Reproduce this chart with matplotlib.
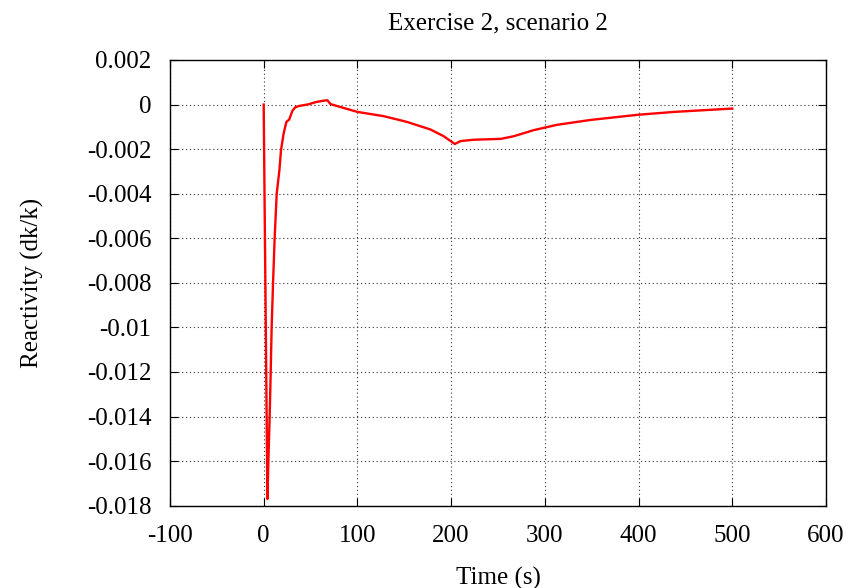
#!/usr/bin/env python3
"""Reactivity transient, exercise 2 scenario 2 (gnuplot-style line plot)."""
import matplotlib
matplotlib.use('Agg')
import matplotlib.pyplot as plt

# time (s) and reactivity (dk/k)
time_s = [0, 4, 5.0, 6.4, 7.5, 8.5, 10.0, 11.7, 13.9, 16.8, 18.5, 21.3, 24.2,
          26.0, 27.4, 28.9, 30.7, 33.5, 37.0, 47.7, 56.6, 65.0, 68.0, 71.3,
          81.0, 100, 128, 153, 178, 192, 204, 210, 224, 253, 267, 288, 313,
          349, 399, 438, 500]
reactivity = [0.0, -0.0177, -0.0160, -0.0140, -0.0120, -0.0100, -0.0080,
              -0.0060, -0.0040, -0.00294, -0.00204, -0.0013, -0.00078,
              -0.00072, -0.00066, -0.00048, -0.00028, -0.00013, -0.00007,
              0.00001, 0.00012, 0.00018, 0.00019, 0.00002,
              -0.0001, -0.00033, -0.00052, -0.00078, -0.00112, -0.00142,
              -0.00177, -0.00164, -0.00158, -0.00154, -0.00142, -0.00115,
              -0.00091, -0.00069, -0.00046, -0.00033, -0.00018]

xticks = [-100, 0, 100, 200, 300, 400, 500, 600]
yticks = [0.002, 0, -0.002, -0.004, -0.006, -0.008, -0.01, -0.012, -0.014,
          -0.016, -0.018]

plt.rcParams['font.family'] = ['Liberation Serif', 'DejaVu Serif']
plt.rcParams['axes.unicode_minus'] = False

fig = plt.figure(figsize=(8.61, 5.88), dpi=100)
ax = fig.add_axes([0.1974, 0.140, 0.7619, 0.758])

ax.plot(time_s, reactivity, color='#ff0000', lw=1.7)

ax.set_xlim(-100, 600)
ax.set_ylim(-0.018, 0.002)
ax.set_xticks(xticks)
ax.set_yticks(yticks)
ax.set_xticklabels([f'{v:g}' for v in xticks])
ax.set_yticklabels([f'{v:g}' for v in yticks])
ax.tick_params(direction='in', top=True, right=True, length=6, width=0.8,
               labelsize=18)
ax.tick_params(axis='x', pad=14)
ax.tick_params(axis='y', pad=13.5)
ax.grid(True, linestyle=(0, (1, 2.5)), color='#333333', linewidth=0.8)
for s in ax.spines.values():
    s.set_linewidth(1.0)

ax.set_xlabel('Time (s)', fontsize=18, labelpad=14)
ax.set_ylabel('Reactivity (dk/k)', fontsize=18, labelpad=31)
ax.set_title('Exercise 2, scenario 2', fontsize=18, pad=22)

fig.savefig('out.png', dpi=100)
plt.close(fig)
